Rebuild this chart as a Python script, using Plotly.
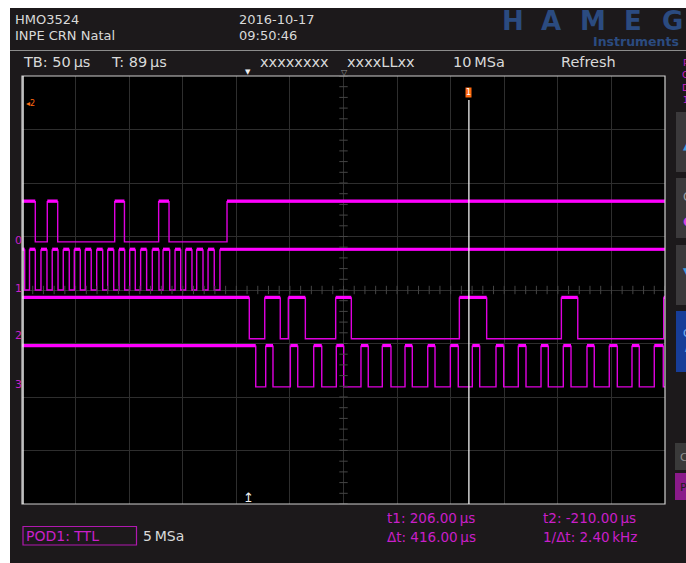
import plotly.graph_objects as go
import numpy as np

# ---------------- data ----------------
TIME_PER_DIV = 50          # µs / div
CENTER_T = 89              # µs at screen centre (trigger offset)
N_XDIV = 12
N_YDIV = 8
T_LEFT = CENTER_T - TIME_PER_DIV * N_XDIV / 2
T_RIGHT = CENTER_T + TIME_PER_DIV * N_XDIV / 2

CH_NAMES = ["0", "1", "2", "3"]
CH_LOW = [4.90, 4.00, 3.09, 2.19]     # divisions
CH_HIGH = [5.65, 4.75, 3.85, 2.95]
CH_START = [1, 1, 1, 1]

# transition times (µs), level toggles at each edge
D0_EDGES = [-198.6, -187.4, -177.7, -124.5, -115.4, -83.5, -73.8, -19.7]
D1_EDGES = [-208.5, -204.0, -198.6, -193.3, -187.7, -182.8, -177.4, -172.5,
            -166.9, -162.2, -156.6, -152.0, -146.4, -141.3, -135.7, -131.0,
            -125.4, -120.5, -115.2, -110.5, -105.3, -100.3, -94.7, -89.4,
            -83.2, -79.4, -73.2, -68.2, -62.9, -58.3, -52.4, -48.0,
            -42.1, -37.4, -31.6, -26.3]
D2_EDGES = [1.1, 15.5, 30.0, 37.5, 53.4, 81.7, 96.3, 197.1, 222.6, 292.3,
            307.6, 387.8]
D3_EDGES = [7.1, 16.4, 23.2, 39.4, 46.3, 61.2, 68.7, 82.3, 89.2, 105.3,
            112.1, 125.2, 133.3, 146.4, 153.2, 167.6, 174.4, 188.7, 196.1,
            209.2, 216.1, 231.3, 238.5, 252.1, 259.3, 273.3, 280.1, 294.1,
            301.3, 316.2, 323.0, 337.0, 344.5, 358.2, 365.0, 379.0, 387.4]
CH_EDGES = [D0_EDGES, D1_EDGES, D2_EDGES, D3_EDGES]

CURSOR_T1 = 206.0
CURSOR_T2 = -210.0
TRIGGER_T = 0.0

# ---------------- layout helpers (screen pixel coords) ----------------
W, H = 686, 563
PX_L, PX_R, PX_T, PX_B = 22, 665, 76, 504


def px(x):
    return (x - PX_L) / (PX_R - PX_L)


def py(y):
    return (PX_B - y) / (PX_B - PX_T)


BG = "#1c191b"
MAG = "#ff00ff"
MAG_THIN = "#e000e0"
MAG_TXT = "#c91fc9"
TXT = "#d9d9d9"
FONT = "DejaVu Sans"

fig = go.Figure()

# ---------------- waveforms ----------------
for i, edges in enumerate(CH_EDGES):
    lo, hi = CH_LOW[i], CH_HIGH[i]
    lvl = CH_START[i]
    xs = [T_LEFT]
    ys = [hi if lvl else lo]
    hx, hy = [], []
    seg_start = T_LEFT
    for e in edges:
        if lvl:
            hx += [seg_start, e, None]
            hy += [hi + 0.012, hi + 0.012, None]
        lvl = 1 - lvl
        xs.append(e)
        ys.append(hi if lvl else lo)
        seg_start = e
    if lvl:
        hx += [seg_start, T_RIGHT, None]
        hy += [hi + 0.012, hi + 0.012, None]
    xs.append(T_RIGHT)
    ys.append(hi if lvl else lo)
    fig.add_trace(go.Scatter(x=xs, y=ys, mode="lines", line_shape="hv",
                             line=dict(color=MAG_THIN, width=1.4),
                             hoverinfo="skip", showlegend=False))
    fig.add_trace(go.Scatter(x=hx, y=hy, mode="lines",
                             line=dict(color=MAG, width=3.2),
                             hoverinfo="skip", showlegend=False))

# centre-line minor ticks
tick_t = np.arange(T_LEFT, T_RIGHT + 0.1, TIME_PER_DIV / 5)
fig.add_trace(go.Scatter(x=tick_t, y=[N_YDIV / 2] * len(tick_t), mode="markers",
                         marker=dict(symbol="line-ns", size=6,
                                     line=dict(color="#454545", width=1)),
                         hoverinfo="skip", showlegend=False))
tick_y = np.arange(0, N_YDIV + 0.01, 0.2)
fig.add_trace(go.Scatter(x=[CENTER_T] * len(tick_y), y=tick_y, mode="markers",
                         marker=dict(symbol="line-ew", size=6,
                                     line=dict(color="#454545", width=1)),
                         hoverinfo="skip", showlegend=False))

shapes = []
# white margins (top and left)
shapes.append(dict(type="rect", xref="paper", yref="paper",
                   x0=px(-5), x1=px(W + 5), y0=py(8), y1=py(-5),
                   fillcolor="white", line=dict(width=0), layer="above"))
shapes.append(dict(type="rect", xref="paper", yref="paper",
                   x0=px(-5), x1=px(10), y0=py(H + 5), y1=py(-5),
                   fillcolor="white", line=dict(width=0), layer="above"))
# header separator
shapes.append(dict(type="line", xref="paper", yref="paper",
                   x0=px(10), x1=px(W), y0=py(50.5), y1=py(50.5),
                   line=dict(color="#8c8c8c", width=1)))
# plot frame
shapes.append(dict(type="rect", xref="paper", yref="paper",
                   x0=0, x1=1, y0=0, y1=1,
                   line=dict(color="#cfcfcf", width=1.2)))
# cursors
shapes.append(dict(type="line", xref="x", yref="y", x0=CURSOR_T1, x1=CURSOR_T1,
                   y0=0, y1=7.55, line=dict(color="#f0f0f0", width=1.3)))
shapes.append(dict(type="line", xref="x", yref="y", x0=CURSOR_T2, x1=CURSOR_T2,
                   y0=0, y1=N_YDIV, line=dict(color="#f0f0f0", width=1.3)))
# right side buttons
for (y0, y1, col) in [(112, 172, "#3b393b"), (178, 238, "#3b393b"),
                      (245, 305, "#3b393b"), (311, 372, "#173d98")]:
    shapes.append(dict(type="rect", xref="paper", yref="paper",
                       x0=px(676), x1=px(W + 8), y0=py(y1), y1=py(y0),
                       fillcolor=col, line=dict(width=0)))
shapes.append(dict(type="rect", xref="paper", yref="paper",
                   x0=px(675), x1=px(W + 2), y0=py(470), y1=py(443),
                   fillcolor="#3a3a3a", line=dict(width=0)))
shapes.append(dict(type="rect", xref="paper", yref="paper",
                   x0=px(675), x1=px(W + 2), y0=py(500), y1=py(473),
                   fillcolor="#8a1a8a", line=dict(width=0)))
# POD1 box
shapes.append(dict(type="rect", xref="paper", yref="paper",
                   x0=px(23), x1=px(136.5), y0=py(545), y1=py(526.5),
                   line=dict(color="#b018b0", width=1.2)))

ann = []


def txt(x, y, s, size=13, color=TXT, anchor="left", bold=False, fam=FONT):
    if bold:
        s = "<b>" + s + "</b>"
    ann.append(dict(xref="paper", yref="paper", x=px(x), y=py(y), text=s,
                    showarrow=False, xanchor=anchor, yanchor="middle",
                    font=dict(family=fam, size=size, color=color)))


# header
txt(13, 19.5, "HMO3524", 13)
txt(13, 36, "INPE CRN Natal", 13)
txt(237, 19.5, "2016-10-17", 13)
txt(237, 36, "09:50:46", 13)
LOGO = ["H", "A", "M", "E", "G"]
LOGO_X = [513, 551, 593, 633, 672]
for ch, lx in zip(LOGO, LOGO_X):
    txt(lx, 21, ch, 26, "#2b4b80", "center", True)
txt(681, 42, "Instruments", 12.5, "#2b4b80", "right", True)

# status line
txt(21, 62, "TB: 50\u2009µs", 14.5)
txt(109, 62, "T: 89\u2009µs", 14.5)
txt(258, 62, "xxxxxxxx", 14.5)
txt(345, 62, "xxxxLLxx", 14.5)
txt(451, 62, "10\u2009MSa", 14.5)
txt(559, 62, "Refresh", 14.5)
txt(248, 72, "▼", 7, "#f0f0f0", "center")
txt(344, 72, "▽", 8, "#9a9a9a", "center")

# channel labels
LABEL_Y = [240, 288, 335, 384]
for name, ly in zip(CH_NAMES, LABEL_Y):
    txt(13, ly, name, 11, MAG_TXT)

# trigger marker at bottom
ann.append(dict(xref="x", yref="paper", x=TRIGGER_T, y=py(497), text="↥",
                showarrow=False, xanchor="center", yanchor="middle",
                font=dict(family=FONT, size=13, color="#f0f0f0")))
# cursor markers
ann.append(dict(xref="x", yref="paper", x=CURSOR_T1, y=py(92), text="1",
                showarrow=False, xanchor="center", yanchor="middle",
                bgcolor="#ff6a10", borderpad=0,
                font=dict(family=FONT, size=8, color="#ffffff")))
txt(24, 103, "◂2", 8, "#ff6a10")

# right column
txt(680, 81, "P<br>O<br>D<br>1", 9.5, MAG_TXT)
txt(681, 145, "▲", 12, "#3da0e0")
txt(681, 197, "C", 12, "#a0a0a0")
txt(681, 221, "●", 12, "#e040e0")
txt(681, 272, "▼", 12, "#3da0e0")
txt(681, 340, "C<br>/", 11, "#7ab0f0")
txt(678, 457, "C", 11, "#909090")
txt(678, 487, "P", 11, "#202020")

# bottom status
txt(24, 536, "POD1: TTL", 14, MAG_TXT)
txt(141, 536, "5\u2009MSa", 14, TXT)
txt(385, 518, "t1: 206.00\u2009µs", 13.5, MAG_TXT)
txt(385, 537, "Δt: 416.00\u2009µs", 13.5, MAG_TXT)
txt(541, 518, "t2: -210.00\u2009µs", 13.5, MAG_TXT)
txt(541, 537, "1/Δt: 2.40\u2009kHz", 13.5, MAG_TXT)

fig.update_layout(
    width=W, height=H,
    margin=dict(l=PX_L, r=W - PX_R, t=PX_T, b=H - PX_B, pad=0),
    paper_bgcolor=BG, plot_bgcolor="#000000",
    shapes=shapes, annotations=ann, showlegend=False,
    hovermode=False,
    xaxis=dict(range=[T_LEFT, T_RIGHT], tick0=CENTER_T, dtick=TIME_PER_DIV,
               showgrid=True, gridcolor="#2e2e2e", gridwidth=1,
               zeroline=False, showticklabels=False, ticks="", fixedrange=True),
    yaxis=dict(range=[0, N_YDIV], tick0=0, dtick=1,
               showgrid=True, gridcolor="#2e2e2e", gridwidth=1,
               zeroline=False, showticklabels=False, ticks="", fixedrange=True),
)

fig.write_html(
    "out.html",
    config={"displayModeBar": False, "staticPlot": True},
    post_script="document.body.style.margin='0';"
                "document.documentElement.style.overflow='hidden';"
                "document.body.style.overflow='hidden';",
)
